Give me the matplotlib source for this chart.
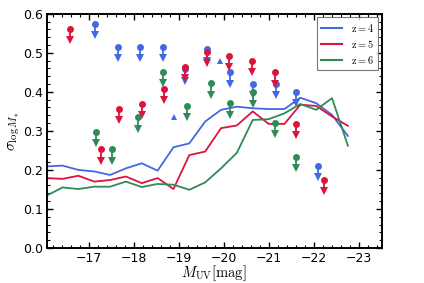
import matplotlib
matplotlib.use("Agg")
import matplotlib.pyplot as plt
import numpy as np
from matplotlib.ticker import MultipleLocator

plt.rcParams["mathtext.fontset"] = "cm"

# scatter of sigma(log M*) per M_UV bin, one curve per redshift
M_BINS = np.linspace(-16.05, -22.75, 20)
SIG_Z4 = [0.209, 0.211, 0.200, 0.196, 0.187, 0.204, 0.217, 0.198, 0.258, 0.268,
          0.324, 0.354, 0.362, 0.358, 0.356, 0.356, 0.385, 0.371, 0.341, 0.287]
SIG_Z5 = [0.179, 0.177, 0.185, 0.170, 0.174, 0.183, 0.166, 0.179, 0.151, 0.238,
          0.247, 0.307, 0.314, 0.350, 0.318, 0.318, 0.367, 0.364, 0.337, 0.313]
SIG_Z6 = [0.134, 0.155, 0.151, 0.157, 0.157, 0.170, 0.156, 0.164, 0.162, 0.149,
          0.168, 0.204, 0.244, 0.328, 0.330, 0.345, 0.369, 0.354, 0.384, 0.262]

# observational upper limits
UL_Z4_M = [-17.13, -17.63, -18.13, -18.64, -19.12, -19.61, -20.12, -20.64, -21.16, -21.60, -22.09]
UL_Z4_S = [0.574, 0.516, 0.516, 0.516, 0.458, 0.509, 0.450, 0.421, 0.421, 0.400, 0.210]
UL_Z5_M = [-16.58, -17.25, -17.65, -18.16, -18.65, -19.12, -19.62, -20.11, -20.61, -21.13, -21.60, -22.21]
UL_Z5_S = [0.561, 0.253, 0.356, 0.369, 0.407, 0.465, 0.502, 0.493, 0.479, 0.450, 0.318, 0.174]
UL_Z6_M = [-17.14, -17.50, -18.08, -18.64, -19.17, -19.70, -20.13, -20.64, -21.13, -21.60]
UL_Z6_S = [0.298, 0.253, 0.335, 0.452, 0.364, 0.422, 0.371, 0.399, 0.320, 0.233]

# measurements shown as triangles (z=4 only)
TRI_Z4_M = [-18.88, -19.91]
TRI_Z4_S = [0.335, 0.479]

BLUE, RED, GREEN = "#4169e1", "#dc143c", "#2e8b57"

fig = plt.figure(figsize=(4.24, 2.83), dpi=100)
ax = fig.add_axes([0.110, 0.124, 0.790, 0.827])

ax.plot(M_BINS, SIG_Z4, color=BLUE, lw=1.3, label=r"$\rm z=4$")
ax.plot(M_BINS, SIG_Z5, color=RED, lw=1.3, label=r"$\rm z=5$")
ax.plot(M_BINS, SIG_Z6, color=GREEN, lw=1.3, label=r"$\rm z=6$")

arrow = 0.029
for mm, ss, c in [(UL_Z4_M, UL_Z4_S, BLUE), (UL_Z5_M, UL_Z5_S, RED), (UL_Z6_M, UL_Z6_S, GREEN)]:
    mm = np.array(mm)
    ss = np.array(ss)
    ax.vlines(mm, ss - arrow, ss, color=c, lw=1.3)
    ax.plot(mm, ss, "o", color=c, ms=5, mew=0)
    ax.plot(mm, ss - arrow, "v", color=c, ms=5.2, mew=0)

ax.plot(TRI_Z4_M, TRI_Z4_S, "^", color=BLUE, ms=5, mew=0)

ax.set_xlim(-16.05, -23.5)
ax.set_ylim(0, 0.6)
ax.xaxis.set_major_locator(MultipleLocator(1))
ax.xaxis.set_minor_locator(MultipleLocator(0.2))
ax.yaxis.set_major_locator(MultipleLocator(0.1))
ax.yaxis.set_minor_locator(MultipleLocator(0.02))
ax.tick_params(which="both", direction="in", top=True, right=True, labelsize=9)
ax.tick_params(axis="x", pad=3)
ax.tick_params(axis="y", pad=2.5)
ax.tick_params(which="major", length=4, width=1)
ax.tick_params(which="minor", length=2, width=0.8)
for s in ax.spines.values():
    s.set_linewidth(1.4)

ax.set_xlabel(r"$M_{\rm UV}[\rm mag]$", fontsize=10.5, labelpad=-1)
ax.set_ylabel(r"$\sigma_{\log M_{*}}$", fontsize=11, labelpad=1)

leg = ax.legend(loc="upper right", fontsize=7.5, fancybox=False, handlelength=2.0,
                borderaxespad=0.3, labelspacing=0.38, handletextpad=0.8,
                borderpad=0.45)
leg.get_frame().set_edgecolor("#555555")
leg.get_frame().set_linewidth(0.8)
for ln in leg.get_lines():
    ln.set_linewidth(1.5)

fig.savefig("out.png", dpi=100)
